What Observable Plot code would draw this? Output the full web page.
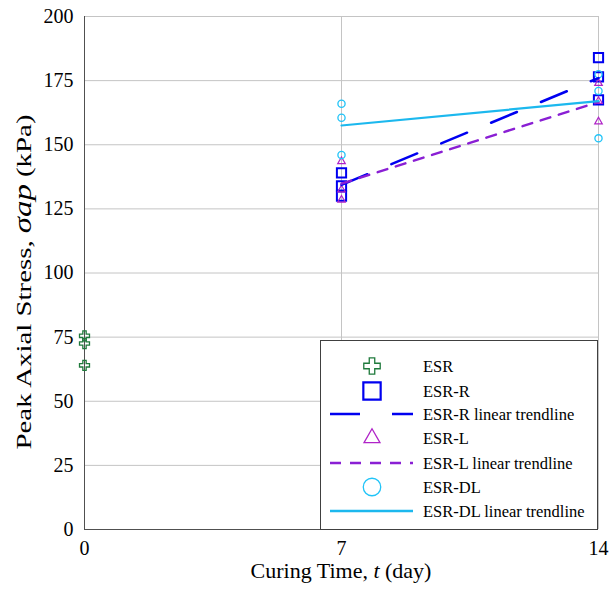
<!DOCTYPE html>
<html><head><meta charset="utf-8">
<script src="https://cdn.jsdelivr.net/npm/d3@7"></script>
<script src="https://cdn.jsdelivr.net/npm/@observablehq/plot@0.6"></script>
<style>
body{margin:0;background:#fff;}
#wrap{position:relative;width:611px;height:594px;font-family:"Liberation Serif","Times New Roman",serif;}
#wrap svg{display:block;}
#legend{position:absolute;left:320px;top:340px;}
</style></head><body><div id="wrap"></div>
<script>
// ---- data ----
const esrDays = [0, 0, 0];
const esrStress = [75.5, 72.5, 64];
const esrRDays = [7, 7, 7, 14, 14, 14];
const esrRStress = [139, 134, 130, 184, 176.5, 167.5];
const esrLDays = [7, 7, 7, 14, 14, 14];
const esrLStress = [143.5, 132.5, 128.5, 174, 167, 159];
const esrDLDays = [7, 7, 7, 14, 14, 14];
const esrDLStress = [166, 160.5, 146, 177.5, 171, 152.5];
const xTicks = [0, 7, 14];
const yTicks = [0, 25, 50, 75, 100, 125, 150, 175, 200];
const legendLabels = ["ESR", "ESR-R", "ESR-R linear trendline", "ESR-L", "ESR-L linear trendline", "ESR-DL", "ESR-DL linear trendline"];

// ---- styles ----
const cGreen = "#1f7a3c", cBlue = "#0000f0", cTri = "#b024c8", cLtrend = "#8a1fd4", cCirc = "#20c4f8", cDL = "#1cb8ee";
const grid = "#c4c4c4", axisCol = "#505050";
const serif = '"Liberation Serif","Times New Roman",serif';

const rows = (xs, ys) => xs.map((d, i) => ({day: d, stress: ys[i]}));
const esr = rows(esrDays, esrStress), esrR = rows(esrRDays, esrRStress), esrL = rows(esrLDays, esrLStress), esrDL = rows(esrDLDays, esrDLStress);

const chart = Plot.plot({
  width: 611, height: 594,
  marginLeft: 84, marginRight: 13, marginTop: 16, marginBottom: 65,
  x: {domain: [0, 14]},
  y: {domain: [0, 200]},
  style: {fontFamily: serif, color: "#000", background: "#fff"},
  marks: [
    Plot.gridY(yTicks, {stroke: grid, strokeOpacity: 1}),
    Plot.gridX([7, 14], {stroke: grid, strokeOpacity: 1}),
    Plot.ruleX([0], {stroke: axisCol}),
    Plot.ruleY([0], {stroke: axisCol}),
    Plot.axisX(xTicks, {tickSize: 0, tickPadding: 11, fontSize: 20, label: null}),
    Plot.axisY(yTicks, {tickSize: 0, tickPadding: 11, fontSize: 20, label: null}),
    Plot.dot(esr, {x: "day", y: "stress", symbol: "cross", r: 4.2, stroke: cGreen, fill: "none", strokeWidth: 1.3}),
    Plot.dot(esrR, {x: "day", y: "stress", symbol: "square", r: 5.2, stroke: cBlue, fill: "none", strokeWidth: 2}),
    Plot.dot(esrL, {x: "day", y: "stress", symbol: "triangle", r: 2.8, stroke: cTri, fill: "none", strokeWidth: 1.2}),
    Plot.dot(esrDL, {x: "day", y: "stress", symbol: "circle", r: 3.6, stroke: cCirc, fill: "none", strokeWidth: 1.3}),
    Plot.linearRegressionY(esrR, {x: "day", y: "stress", ci: 0, stroke: cBlue, strokeWidth: 2.5, strokeDasharray: "28,26"}),
    Plot.linearRegressionY(esrL, {x: "day", y: "stress", ci: 0, stroke: cLtrend, strokeWidth: 2.5, strokeDasharray: "10,9"}),
    Plot.linearRegressionY(esrDL, {x: "day", y: "stress", ci: 0, stroke: cDL, strokeWidth: 2.2})
  ]
});

const svg = d3.select(chart);
// axis titles
const xt = svg.append("text").attr("x", 341).attr("y", 578).attr("text-anchor", "middle").attr("font-size", 22).attr("fill", "#000");
xt.append("tspan").text("Curing Time, ");
xt.append("tspan").attr("font-style", "italic").text("t");
xt.append("tspan").text(" (day)");
const yt = svg.append("text").attr("transform", "translate(31,282) rotate(-90)").attr("text-anchor", "middle")
  .attr("font-size", 22).attr("fill", "#000").attr("textLength", 335).attr("lengthAdjust", "spacingAndGlyphs");
yt.append("tspan").text("Peak Axial Stress, ");
yt.append("tspan").attr("font-style", "italic").attr("font-size", 25).text("σap");
yt.append("tspan").text(" (kPa)");

document.getElementById("wrap").appendChild(chart);

// ---- legend ----
const lg = d3.select("#wrap").append("svg").attr("id", "legend").attr("width", 279).attr("height", 190);
lg.append("rect").attr("x", 0.5).attr("y", 0.5).attr("width", 277).attr("height", 189).attr("fill", "#fff").attr("stroke", "#404040");
const rowY = [26, 51, 74, 98, 123, 147, 171];
const sym = (type, size) => d3.symbol(type, size)();
const items = [
  {kind: "sym", d: sym(d3.symbolCross, 150), stroke: cGreen, sw: 1.3},
  {kind: "sym", d: sym(d3.symbolSquare, 300), stroke: cBlue, sw: 2.2},
  {kind: "line", stroke: cBlue, sw: 2.5, dash: "30,32"},
  {kind: "sym", d: sym(d3.symbolTriangle, 110), stroke: cTri, sw: 1.3},
  {kind: "line", stroke: cLtrend, sw: 2.5, dash: "11,9"},
  {kind: "sym", d: sym(d3.symbolCircle, 240), stroke: cCirc, sw: 1.3},
  {kind: "line", stroke: cDL, sw: 2.5, dash: null}
];
items.forEach((it, i) => {
  const y = rowY[i];
  if (it.kind === "sym") {
    lg.append("path").attr("d", it.d).attr("transform", `translate(52,${y})`).attr("fill", "none").attr("stroke", it.stroke).attr("stroke-width", it.sw);
  } else {
    const l = lg.append("line").attr("x1", 10).attr("x2", 93).attr("y1", y).attr("y2", y).attr("stroke", it.stroke).attr("stroke-width", it.sw);
    if (it.dash) l.attr("stroke-dasharray", it.dash);
  }
  lg.append("text").attr("x", 103).attr("y", y + 6).attr("font-size", 16.5).attr("fill", "#000")
    .attr("font-family", serif).text(legendLabels[i]);
});
</script></body></html>
